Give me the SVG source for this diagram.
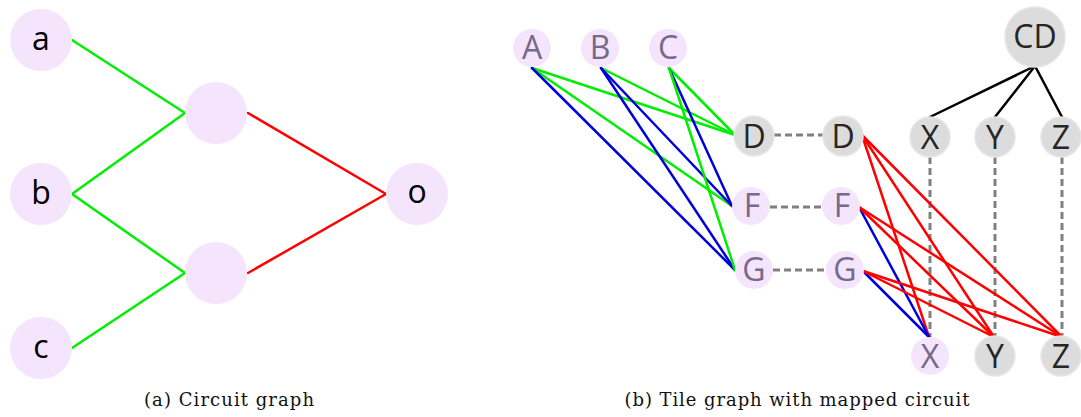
<svg xmlns="http://www.w3.org/2000/svg" width="1081" height="417" viewBox="0 0 1081 417">
<style>
.pk{fill:#f4e4fc}
.gr{fill:#dcdcdc;stroke:#e6e6e6;stroke-width:1.5}
.t{font-family:"Open Sans","Noto Sans",sans-serif;font-size:32px;text-anchor:middle}
.tl{fill:#000}
.tp{fill:#76698a}
.tg{fill:#262626}
.e{stroke-width:2.5;fill:none;stroke-linecap:round}
.g{stroke:#00ee00}
.r{stroke:#ff0000}
.b{stroke:#0000dd}
.k{stroke:#000}
.d{stroke:#808080;stroke-width:3;stroke-dasharray:7 4;fill:none}
.cap{font-family:"DejaVu Serif","Liberation Serif",serif;font-size:18px;text-anchor:middle;fill:#111}
</style>
<rect width="1081" height="417" fill="#fff"/>
<g id="connectors">
<line class="e g" x1="72" y1="40" x2="185" y2="113"/>
<line class="e g" x1="72" y1="194" x2="185" y2="113"/>
<line class="e g" x1="72" y1="194" x2="185" y2="273"/>
<line class="e g" x1="72" y1="348" x2="185" y2="273"/>
<line class="e r" x1="248" y1="113" x2="386" y2="194"/>
<line class="e r" x1="248" y1="273" x2="386" y2="194"/>
<line class="e g" x1="532" y1="68" x2="735" y2="135"/>
<line class="e g" x1="532" y1="68" x2="732" y2="206"/>
<line class="e b" x1="532" y1="68" x2="735" y2="270"/>
<line class="e g" x1="601" y1="68" x2="735" y2="135"/>
<line class="e b" x1="601" y1="68" x2="732" y2="206"/>
<line class="e b" x1="601" y1="68" x2="735" y2="270"/>
<line class="e g" x1="669" y1="68" x2="735" y2="135"/>
<line class="e b" x1="669" y1="68" x2="732" y2="206"/>
<line class="e g" x1="669" y1="68" x2="735" y2="270"/>
<line class="d" x1="774" y1="135" x2="823" y2="135"/>
<line class="d" x1="770" y1="207" x2="823" y2="207"/>
<line class="d" x1="773" y1="270" x2="826" y2="270"/>
<line class="d" x1="930" y1="157" x2="930" y2="337"/>
<line class="d" x1="995" y1="157" x2="995" y2="337"/>
<line class="d" x1="1062" y1="157" x2="1062" y2="337"/>
<line class="e r" x1="862" y1="135" x2="929" y2="337"/>
<line class="e r" x1="862" y1="135" x2="994" y2="337"/>
<line class="e r" x1="862" y1="135" x2="1062" y2="337"/>
<line class="e b" x1="859" y1="207" x2="929" y2="337"/>
<line class="e r" x1="859" y1="207" x2="994" y2="337"/>
<line class="e r" x1="859" y1="207" x2="1062" y2="337"/>
<line class="e b" x1="863" y1="271" x2="929" y2="337"/>
<line class="e r" x1="863" y1="271" x2="994" y2="337"/>
<line class="e r" x1="863" y1="271" x2="1062" y2="337"/>
<line class="e k" x1="1035" y1="66" x2="930" y2="117"/>
<line class="e k" x1="1035" y1="66" x2="995" y2="117"/>
<line class="e k" x1="1035" y1="66" x2="1062" y2="117"/>
</g>
<g id="n-a"><circle class="pk" cx="41" cy="40" r="31"/><text class="t tl" x="41" y="50">a</text></g>
<g id="n-b"><circle class="pk" cx="41" cy="194" r="31"/><text class="t tl" x="41" y="204">b</text></g>
<g id="n-c"><circle class="pk" cx="41" cy="348" r="31"/><text class="t tl" x="41" y="358">c</text></g>
<g id="n-m1"><circle class="pk" cx="216" cy="113" r="31"/></g>
<g id="n-m2"><circle class="pk" cx="216" cy="273" r="31"/></g>
<g id="n-o"><circle class="pk" cx="417" cy="194" r="31"/><text class="t tl" x="417" y="203">o</text></g>
<g id="t-A"><circle class="pk" cx="532" cy="48" r="19"/><text class="t tp" x="532" y="59">A</text></g>
<g id="t-B"><circle class="pk" cx="600" cy="48" r="19"/><text class="t tp" x="600" y="59">B</text></g>
<g id="t-C"><circle class="pk" cx="668" cy="48" r="19"/><text class="t tp" x="668" y="59">C</text></g>
<g id="t-D1"><circle class="gr" cx="754" cy="136" r="20"/><text class="t tg" x="754" y="148">D</text></g>
<g id="t-F1"><circle class="pk" cx="751" cy="206" r="19"/><text class="t tp" x="752" y="217">F</text></g>
<g id="t-G1"><circle class="pk" cx="754" cy="270" r="19"/><text class="t tp" x="754" y="281">G</text></g>
<g id="t-D2"><circle class="gr" cx="843" cy="136" r="20"/><text class="t tg" x="843" y="148">D</text></g>
<g id="t-F2"><circle class="pk" cx="841" cy="206" r="19"/><text class="t tp" x="842" y="217">F</text></g>
<g id="t-G2"><circle class="pk" cx="845" cy="270" r="19"/><text class="t tp" x="845" y="281">G</text></g>
<g id="t-CD"><circle class="gr" cx="1035" cy="37" r="30"/><text class="t tg" x="1035" y="48">CD</text></g>
<g id="t-X1"><circle class="gr" cx="930" cy="137" r="20"/><text class="t tg" x="930" y="149">X</text></g>
<g id="t-Y1"><circle class="gr" cx="995" cy="137" r="20"/><text class="t tg" x="995" y="149">Y</text></g>
<g id="t-Z1"><circle class="gr" cx="1061" cy="137" r="20"/><text class="t tg" x="1061" y="149">Z</text></g>
<g id="t-X2"><circle class="pk" cx="930" cy="356" r="19"/><text class="t tp" x="930" y="368">X</text></g>
<g id="t-Y2"><circle class="gr" cx="995" cy="356" r="20"/><text class="t tg" x="995" y="368">Y</text></g>
<g id="t-Z2"><circle class="gr" cx="1061" cy="356" r="20"/><text class="t tg" x="1061" y="368">Z</text></g>
<text class="cap" x="229" y="406" textLength="170" lengthAdjust="spacing">(a) Circuit graph</text>
<text class="cap" x="797" y="406" textLength="345" lengthAdjust="spacing">(b) Tile graph with mapped circuit</text>
</svg>
